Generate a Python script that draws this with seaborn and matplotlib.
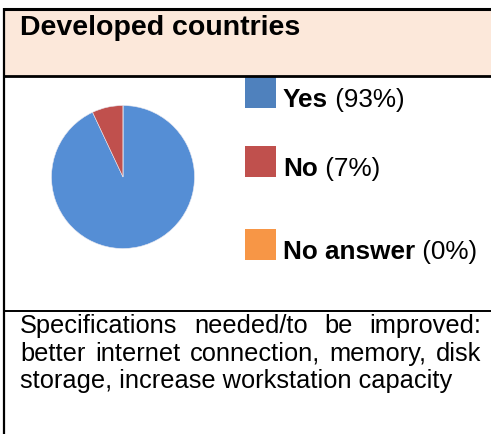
import matplotlib
matplotlib.use("Agg")
import matplotlib.pyplot as plt
import seaborn as sns
from matplotlib.patches import Rectangle

sns.set_theme(style="white")
plt.rcParams['font.family'] = ['Liberation Sans', 'DejaVu Sans']

# ---- data ----
title = "Developed countries"
categories = ["Yes", "No", "No answer"]
shares = [93, 7, 0]
pie_colors = ["#558ED5", "#C0504D", "#F79646"]
legend_colors = ["#4F81BD", "#C0504D", "#F79646"]
body_lines = ["Specifications needed/to be improved:",
              "better internet connection, memory, disk",
              "storage, increase workstation capacity"]

W, H = 491, 434
fig = plt.figure(figsize=(W / 100, H / 100), dpi=100)
fig.patch.set_facecolor("white")

# overlay axes in pixel coordinates
ov = fig.add_axes([0, 0, 1, 1])
ov.set_xlim(0, W)
ov.set_ylim(H, 0)
ov.axis("off")

# header background and borders
ov.add_patch(Rectangle((4, 9), W, 67, facecolor="#FCE8DA", edgecolor="none", zorder=0))
ov.plot([4, W + 5], [9, 9], color="black", lw=2.2, solid_capstyle="butt")
ov.plot([4, W + 5], [76, 76], color="black", lw=2.0, solid_capstyle="butt")
ov.plot([4, W + 5], [310.5, 310.5], color="black", lw=1.4, solid_capstyle="butt")
ov.plot([4, 4], [8, H + 5], color="black", lw=1.6, solid_capstyle="butt")

ov.text(20, 35, title, fontsize=20.5, fontweight="bold", color="black",
        va="baseline", ha="left")

# pie
cx, cy, r = 123, 177, 71.5
pax = fig.add_axes([(cx - r) / W, 1 - (cy + r) / H, 2 * r / W, 2 * r / H])
pax.pie(shares, colors=pie_colors, startangle=90, counterclock=False,
        wedgeprops=dict(linewidth=0.4, edgecolor="#E8E8F0"))
pax.set_xlim(-1.0, 1.0)
pax.set_ylim(-1.0, 1.0)
pax.set_aspect("equal")
pax.axis("off")

fig.canvas.draw()
renderer = fig.canvas.get_renderer()

def text_width(t):
    bb = t.get_window_extent(renderer)
    return bb.width

# legend
sq_top = [77, 146, 229]
lfs = 18.8
for cat, val, col, top in zip(categories, shares, legend_colors, sq_top):
    ov.add_patch(Rectangle((245, top), 31, 31, facecolor=col, edgecolor="none"))
    t1 = ov.text(283, top + 30, cat, fontsize=lfs, fontweight="bold",
                 va="baseline", ha="left", color="black")
    w1 = text_width(t1)
    ov.text(283 + w1, top + 30, f" ({val}%)", fontsize=lfs,
            va="baseline", ha="left", color="black")

# body text (justified first two lines)
left, right = 20, 481
baselines = [333, 361, 388]
fs = 18.3
for i, (line, yb) in enumerate(zip(body_lines, baselines)):
    if i < 2:
        words = line.split(" ")
        objs = [ov.text(0, yb, w, fontsize=fs, va="baseline", ha="left", color="black") for w in words]
        widths = [text_width(o) for o in objs]
        gap = (right - left - sum(widths)) / (len(words) - 1)
        x = left
        for o, w in zip(objs, widths):
            o.set_x(x)
            x += w + gap
    else:
        ov.text(left, yb, line, fontsize=fs, va="baseline", ha="left", color="black")

fig.savefig("out.png", dpi=100)
